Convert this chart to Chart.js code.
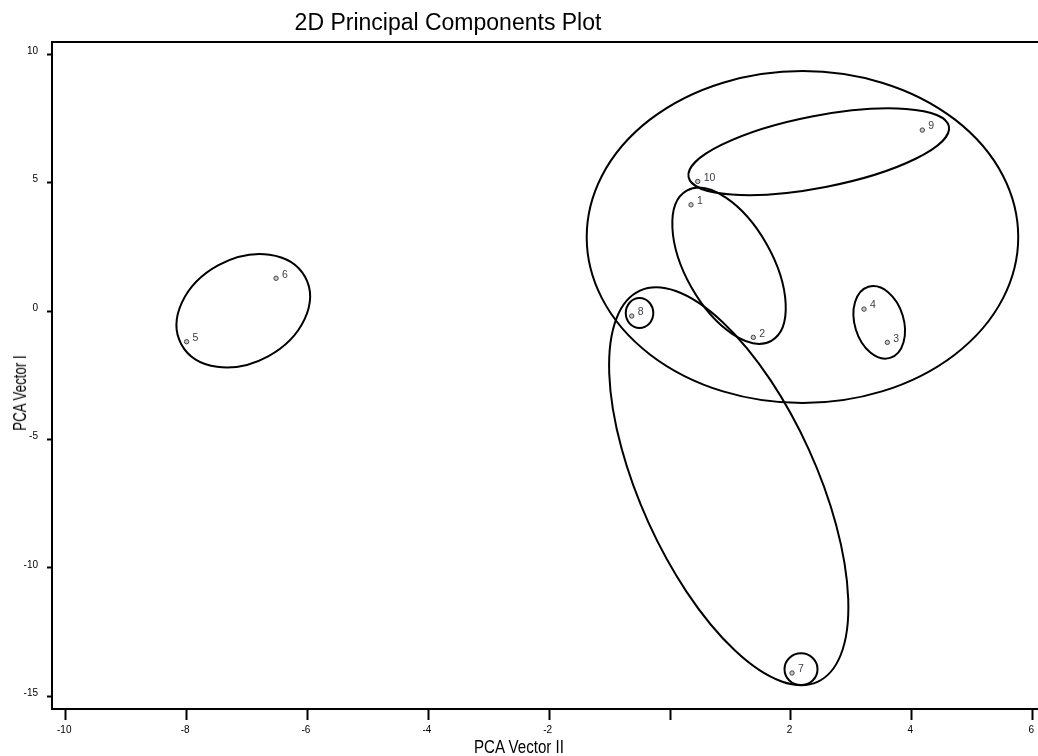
<!DOCTYPE html>
<html>
<head>
<meta charset="utf-8">
<script src="https://cdn.jsdelivr.net/npm/chart.js@4.4.1/dist/chart.umd.min.js"></script>
<style>
html,body{margin:0;padding:0;background:#fff;}
#wrap{position:relative;width:1038px;height:756px;overflow:hidden;background:#fff;}
#wrap canvas{position:absolute;left:0;top:0;}
.t{position:absolute;white-space:nowrap;color:#000;line-height:1;font-family:'Liberation Sans',Arial,sans-serif;}
#title{font-size:23px;left:448px;top:10.5px;transform:translateX(-50%);}
#xt{font-size:18px;left:519.2px;top:738.1px;transform:translateX(-50%) scaleX(0.841);}
#yt{font-size:18px;left:19.7px;top:393px;transform:translate(-50%,-50%) rotate(-90deg) scaleX(0.74);}
</style>
</head>
<body>
<div id="wrap">
  <canvas id="c" width="1038" height="756"></canvas>
  <div class="t" id="title">2D Principal Components Plot</div>
  <div class="t" id="xt">PCA Vector II</div>
  <div class="t" id="yt">PCA Vector I</div>
</div>
<script>
// ---- data ----
const pointLabels = ['1','2','3','4','5','6','7','8','9','10'];
const pcaX = [0.346, 1.377, 3.594, 3.208, -8.00, -6.52, 2.017, -0.635, 4.173, 0.457];
const pcaY = [4.14, -1.02, -1.215, 0.08, -1.19, 1.28, -14.09, -0.19, 7.05, 5.05];

const xTickValues = [-10, -8, -6, -4, -2, 0, 2, 4, 6];
const xTickLabels = ['-10', '-8', '-6', '-4', '-2', '', '2', '4', '6'];
const yTickValues = [10, 5, 0, -5, -10, -15];
const yTickLabels = ['10', '5', '0', '-5', '-10', '-15'];
const xRange = [-10.227, 6.087];
const yRange = [-15.49, 10.479];

// cluster ellipses: centre (data units), semi-axes (x-axis units), rotation (deg)
const ellipseCx    = [2.19, 2.459, 0.975, 3.46, -0.506, 2.166, 0.970, -7.062];
const ellipseCy    = [2.885, 6.207, 1.768, -0.436, -0.074, -13.94, -6.818, 0.016];
const ellipseA     = [3.57, 2.194, 1.425, 0.615, 0.248, 0.273, 3.554, 1.166];
const ellipseB     = [2.747, 0.594, 0.718, 0.405, 0.228, 0.263, 1.458, 0.859];
const ellipseAngle = [0, -11, 60.6, 73, 90, 0, 65.6, -28.6];

const sans = "'Liberation Sans',Arial,sans-serif";

const ellipsePlugin = {
  id: 'ellipses',
  beforeDatasetsDraw(chart) {
    const {ctx} = chart;
    const x = chart.scales.x, y = chart.scales.y;
    const unit = Math.abs(x.getPixelForValue(1) - x.getPixelForValue(0));
    ctx.save();
    ctx.lineWidth = 2;
    ctx.strokeStyle = '#000';
    for (let i = 0; i < ellipseCx.length; i++) {
      ctx.beginPath();
      ctx.ellipse(x.getPixelForValue(ellipseCx[i]), y.getPixelForValue(ellipseCy[i]),
        ellipseA[i] * unit, ellipseB[i] * unit, ellipseAngle[i] * Math.PI / 180, 0, Math.PI * 2);
      ctx.stroke();
    }
    ctx.restore();
  }
};

const labelPlugin = {
  id: 'pointLabels',
  afterDatasetsDraw(chart) {
    const {ctx} = chart;
    const meta = chart.getDatasetMeta(0);
    ctx.save();
    ctx.font = '10.5px ' + sans;
    ctx.fillStyle = '#3c3c48';
    ctx.textAlign = 'left';
    ctx.textBaseline = 'middle';
    meta.data.forEach((el, i) => {
      ctx.fillText(pointLabels[i], el.x + 6, el.y - 3.5);
    });
    ctx.restore();
  }
};

function zeroSidePad(s) { s.paddingLeft = 0; s.paddingRight = 0; }

new Chart(document.getElementById('c'), {
  type: 'scatter',
  data: {
    datasets: [{
      data: pcaX.map((v, i) => ({x: v, y: pcaY[i]})),
      pointRadius: 2.2,
      pointBorderWidth: 1,
      pointBorderColor: '#444',
      pointBackgroundColor: '#c8c8c8',
      showLine: false
    }]
  },
  options: {
    responsive: false,
    animation: false,
    devicePixelRatio: 1,
    layout: {autoPadding: false, padding: {top: 42, left: 0, right: 0, bottom: 0}},
    plugins: {legend: {display: false}, tooltip: {enabled: false}, title: {display: false}},
    scales: {
      x: {
        type: 'linear', position: 'bottom', min: xRange[0], max: xRange[1],
        afterBuildTicks(s) { s.ticks = xTickValues.map(v => ({value: v})); },
        afterFit(s) { s.height = 47; zeroSidePad(s); },
        ticks: {
          callback: (v, i) => xTickLabels[i],
          font: {family: sans, size: 10}, color: '#000', padding: 4, labelOffset: -1.5,
          maxRotation: 0, autoSkip: false
        },
        grid: {drawOnChartArea: false, drawTicks: true, tickLength: 11, tickWidth: 2, tickColor: '#000'},
        border: {display: true, width: 2, color: '#000'}
      },
      x2: {
        type: 'linear', position: 'top', min: xRange[0], max: xRange[1],
        afterFit(s) { s.height = 0; zeroSidePad(s); },
        ticks: {display: false},
        grid: {drawOnChartArea: false, drawTicks: false},
        border: {display: true, width: 2, color: '#000'}
      },
      y: {
        type: 'linear', position: 'left', min: yRange[0], max: yRange[1],
        afterBuildTicks(s) { s.ticks = yTickValues.map(v => ({value: v})); },
        afterFit(s) { s.width = 52; s.paddingTop = 0; s.paddingBottom = 0; },
        ticks: {
          callback: (v, i) => yTickLabels[i],
          font: {family: sans, size: 10}, color: '#000', padding: 9, labelOffset: -3,
          autoSkip: false
        },
        grid: {drawOnChartArea: false, drawTicks: true, tickLength: 5, tickWidth: 2, tickColor: '#000'},
        border: {display: true, width: 2, color: '#000'}
      }
    }
  },
  plugins: [ellipsePlugin, labelPlugin]
});
</script>
</body>
</html>
